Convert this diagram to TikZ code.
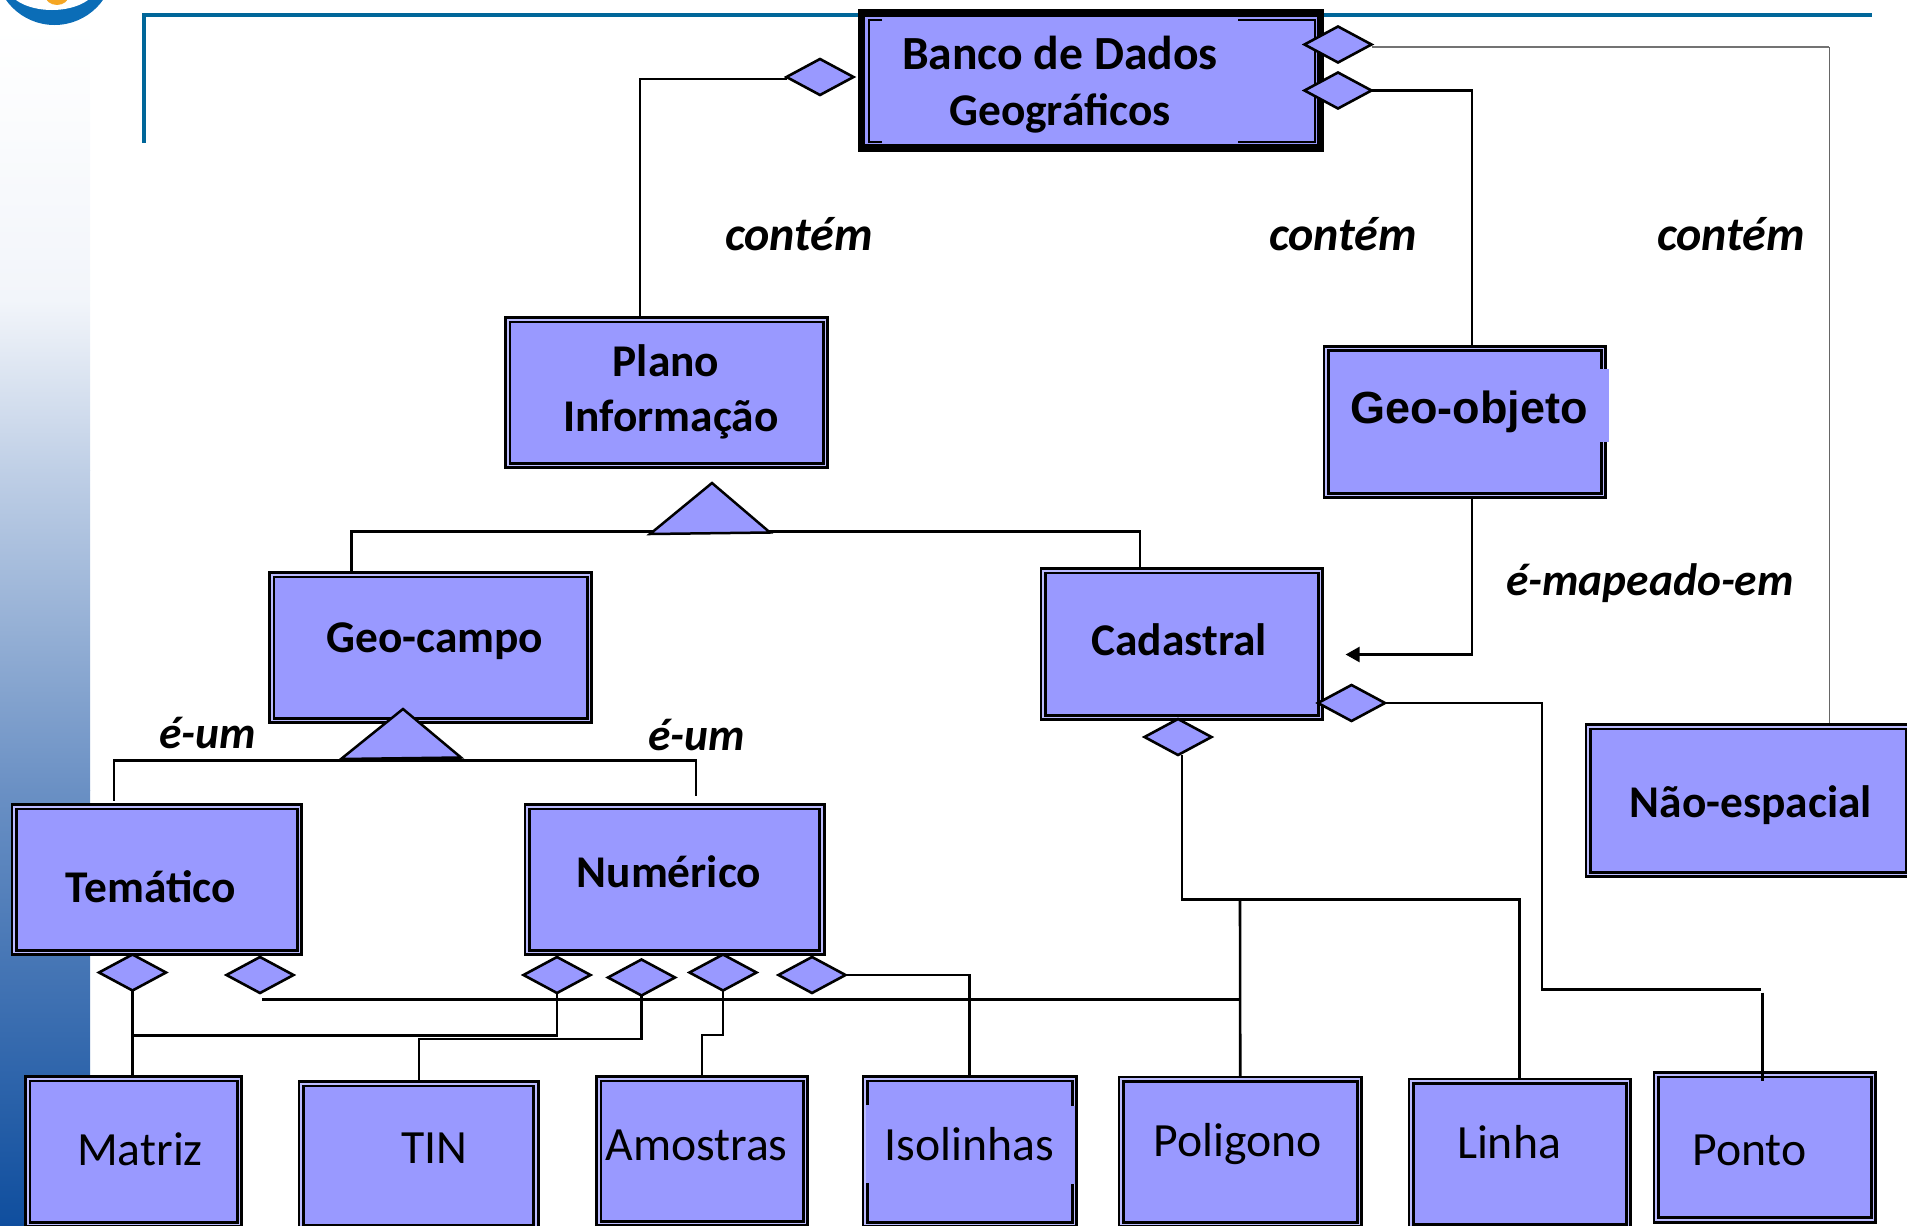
\documentclass[tikz,border=0pt]{standalone}
\usepackage{fontspec}
\setmainfont{Carlito}
\newfontfamily\arialfam{Liberation Sans}
\usetikzlibrary{shapes.geometric,arrows.meta,backgrounds,calc}
\definecolor{peri}{HTML}{9999FF}
\definecolor{perilight}{HTML}{BCBCFF}
\definecolor{frameblue}{HTML}{006699}
\definecolor{logoblue}{HTML}{0B6DB7}
\definecolor{logoorange}{HTML}{F5A623}
\definecolor{gradA}{HTML}{F2F5FA}
\definecolor{gradB}{HTML}{BFCFE6}
\definecolor{gradC}{HTML}{6A90C4}
\definecolor{gradD}{HTML}{0F4E9E}
\newcommand{\bt}[3]{\makebox[0pt][c]{\hspace*{#1pt}\hspace*{#1pt}\raisebox{\dimexpr#2pt-1.2pt\relax}[0pt][0pt]{#3}}}
\tikzset{
  box/.style 2 args={rectangle,draw=black,fill=peri,line width=2.9pt,double=perilight,double distance=1.6pt,
    outer sep=0pt,inner sep=0pt,minimum width=#1pt-7.4pt,minimum height=#2pt-7.4pt,font=\fontsize{47.7}{56}\selectfont},
  boldtxt/.style={font=\fontsize{45.4}{54}\selectfont\bfseries},
  rel/.style={diamond,draw=black,fill=peri,line width=2.6pt,inner sep=0pt,outer sep=0pt,minimum width=67pt,minimum height=36pt},
  tri/.style={draw=black,fill=peri,line width=2.5pt,line join=miter},
  conn/.style={draw=black,line width=2.6pt},
  thinconn/.style={draw=black!55,line width=1.9pt},
  hairconn/.style={draw=black!60,line width=0.9pt},
  rolelbl/.style={anchor=base,inner sep=0pt,font=\fontsize{45.4}{54}\selectfont\bfseries\itshape},
  conteml/.style={rolelbl,font=\fontsize{48}{56}\selectfont\bfseries\itshape},
}
\begin{document}
\begin{tikzpicture}[x=1pt,y=-1pt]
\useasboundingbox (0,0) rectangle (1907,1226);
\clip (0,0) rectangle (1907,1226);
% boxes
\node[rectangle,draw=black,fill=peri,line width=7.5pt,outer sep=0pt,inner sep=0pt,minimum width=459pt,minimum height=135pt,boldtxt] (banco) at (1091,80.5)
  {\bt{-31}{12.5}{\fontsize{47.6}{56}\selectfont Banco de Dados}\bt{-31}{-44}{Geográficos}};
\node[box={325}{153},boldtxt] (plano) at (666.5,392.5) {\bt{-0.5}{17}{Plano}\bt{4.5}{-38}{Informação}};
\node[box={284.5}{154.5},font=\arialfam\fontsize{45}{54}\selectfont\bfseries] (geoobj) at (1464.75,422) {\bt{4.25}{-0.7}{Geo-objeto}};
\node[box={325}{153},boldtxt] (geocampo) at (430.5,647.5) {\bt{4.25}{-4}{Geo-campo}};
\node[box={284.5}{154},boldtxt] (cadastral) at (1181.75,644) {\bt{-2.75}{-10.3}{Cadastral}};
\node[box={328}{155},boldtxt] (naoesp) at (1748.5,800.5) {\bt{2.5}{-15.5}{Não-espacial}};
\node[box={292.5}{153},boldtxt] (tematico) at (156.75,879.5) {\bt{-5.75}{-22}{Temático}};
\node[box={302}{153},boldtxt] (numerico) at (674.5,879.5) {\bt{-5.5}{-6.5}{Numérico}};
\node[box={219}{153}] (matriz) at (133.5,1151.5) {\bt{6.5}{-12.8}{Matriz}};
\node[box={242}{151}] (tin) at (418.5,1155.5) {\bt{16}{-6.8}{TIN}};
\node[box={214}{152}] (amostras) at (702,1151) {\bt{-5.5}{-8.3}{Amostras}};
\node[box={216.5}{153}] (isolinhas) at (969.75,1151.5) {\bt{-0.5}{-8}{Isolinhas}};
\node[box={245.5}{152.5}] (poligono) at (1240.25,1151.75) {\bt{-2.75}{-3.9}{Poligono}};
\node[box={224.5}{152.5}] (linha) at (1519.75,1153.75) {\bt{-10.75}{-3.5}{Linha}};
\node[box={224.5}{152.5}] (ponto) at (1764.75,1147.25) {\bt{-15.25}{-17}{Ponto}};
% inner brackets of Banco
\draw[line width=2.8pt] (882,20) -- (869,20) -- (869,142) -- (882,142);
\draw[line width=2.8pt] (1238,20) -- (1315,20) -- (1315,142) -- (1238,142);
% gaps in the double borders
\fill[peri] (1596,369) rectangle (1609,442);
\fill[peri] (866,1105) rectangle (871,1183);
\fill[peri] (1069.5,1106) rectangle (1074.5,1183.5);
% diamonds
\node[rel] (dPlano) at (820,77) {};
\node[rel] (dNao) at (1338,44.5) {};
\node[rel] (dGeo) at (1338,90.5) {};
\node[rel] (dCadR) at (1351.5,703) {};
\node[rel] (dCadB) at (1178,737) {};
\node[rel] (dTemA) at (132.5,972.5) {};
\node[rel] (dTemB) at (260,975) {};
\node[rel] (dNumA) at (557,975) {};
\node[rel] (dNumB) at (641.5,977.5) {};
\node[rel] (dNumC) at (723,972.5) {};
\node[rel] (dNumD) at (812,975) {};
% triangles
\coordinate (tPa) at (712,483);
\coordinate (tPl) at (650,534);
\coordinate (tPr) at (770,532.5);
\coordinate (tGa) at (403,709);
\coordinate (tGl) at (341,759);
\coordinate (tGr) at (461,757.5);
\draw[tri] (tPa) -- (tPl) -- (tPr) -- cycle;
\draw[tri] (tGa) -- (tGl) -- (tGr) -- cycle;
% role labels
\node[conteml] (c1) at (799,250) {contém};
\node[conteml] (c2) at (1343,250) {contém};
\node[conteml] (c3) at (1731,250) {contém};
\node[rolelbl] (m1) at (1650,595.5) {é-mapeado-em};
\node[rolelbl] (u1) at (208,748) {é-um};
\node[rolelbl] (u2) at (697,750.5) {é-um};
% free ends
\coordinate (endTem) at (114,800.7);
\coordinate (endNum) at (696,796);
\coordinate (endArrow) at (1345.6,654.5);
\coordinate (endHoriz) at (1761,989.4);
\coordinate (cornerPonto) at (1542,989.4);
\coordinate (startPonto) at (1762.5,992.5);
\coordinate (endTemB) at (262.4,999.5);
\coordinate (polyJoin) at (1240,899.5);
\coordinate (busA) at (133,1035.7);
\coordinate (busB) at (419,1039);
\coordinate (busC) at (702,1035);
\coordinate (nonTurn) at (1829,47);
\begin{scope}[on background layer]
  \shade[top color=white,bottom color=gradA] (0,25) rectangle (90,300.5);
  \shade[top color=gradA,bottom color=gradB] (0,300) rectangle (90,470.5);
  \shade[top color=gradB,bottom color=gradC] (0,470) rectangle (90,790.5);
  \shade[top color=gradC,bottom color=gradD] (0,790) rectangle (90,1226);
  \begin{scope}
    \clip (0,0) rectangle (130,40);
    \fill[logoblue] (54.5,-34.5) circle (59.5);
    \fill[white] (52,-15) ellipse (45 and 25);
    \fill[logoorange] (57,-5) ellipse (12 and 10);
  \end{scope}
  \fill[frameblue] (142,13) rectangle (1872,17);
  \fill[frameblue] (142,13) rectangle (146,143);
  % connectors
  \draw[conn] ([yshift=-2pt]dPlano.west) -| ([xshift=-26.5pt]plano.north);
  \draw[conn] (dGeo.east) -| ([xshift=7.25pt]geoobj.north);
  \draw[thinconn] (dNao.east |- nonTurn) -- (nonTurn);
  \draw[hairconn] (nonTurn) -- (nonTurn |- naoesp.north);
  \draw[conn,-{Triangle[length=14pt,width=15pt]}] ([xshift=7.25pt]geoobj.south) |- (endArrow);
  \draw[conn] ([xshift=-79pt]geocampo.north) |- ($(tPl)!0.5!(tPr)+(0,-1.5)$) -| ([xshift=-41.75pt]cadastral.north);
  \draw[conn] (endTem) |- ($(tGl)!0.5!(tGr)+(0,2.5)$) -| (endNum);
  \draw[conn] (dCadR.east) -| (cornerPonto) -- (endHoriz);
  \draw[conn] ([xshift=4pt]dCadB.south) |- (polyJoin) -| (linha.north);
  \draw[conn,line width=3.4pt] ([xshift=4pt]dCadB.south |- polyJoin) -- (polyJoin);
  \draw[conn] (polyJoin) -- (poligono.north);
  \draw[conn,line width=2.9pt] (endTemB) -- (polyJoin |- endTemB);
  \draw[conn] (dNumD.east) -| (isolinhas.north);
  \draw[conn] (dTemA.south) -- (dTemA.south |- matriz.north);
  \draw[conn] (busA) -| (dNumA.south);
  \draw[conn] (dNumB.south) |- (busB) -- (busB |- tin.north);
  \draw[conn] (dNumC.south) |- (busC) -- (busC |- amostras.north);
\end{scope}
\draw[conn] (startPonto) -- (startPonto |- 0,1081);
\end{tikzpicture}
\end{document}
